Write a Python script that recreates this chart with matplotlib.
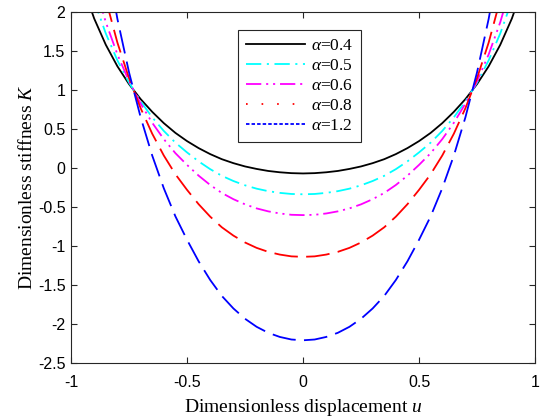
import numpy as np
import matplotlib
matplotlib.use("Agg")
import matplotlib.pyplot as plt
from matplotlib.lines import Line2D

plt.rcParams['axes.unicode_minus'] = False
plt.rcParams['mathtext.fontset'] = 'custom'
plt.rcParams['mathtext.rm'] = 'Liberation Serif'
plt.rcParams['mathtext.it'] = 'Liberation Serif:italic'

# displacement grid (read points)
u_pos = [0.00, 0.05, 0.10, 0.15, 0.20, 0.25, 0.30, 0.35, 0.40, 0.45,
         0.50, 0.55, 0.60, 0.65, 0.70, 0.75, 0.80, 0.85, 0.90, 0.95]

# stiffness values for u >= 0 (curves are symmetric about u = 0)
K_04 = [-0.070, -0.066, -0.055, -0.038, -0.012, 0.020, 0.062, 0.113, 0.178, 0.255,
        0.345, 0.450, 0.575, 0.720, 0.884, 1.076, 1.304, 1.580, 1.916, 2.340]
K_05 = [-0.337, -0.333, -0.319, -0.297, -0.265, -0.222, -0.167, -0.100, -0.015, 0.085,
        0.200, 0.325, 0.475, 0.650, 0.855, 1.095, 1.380, 1.725, 2.145, 2.675]
K_06 = [-0.604, -0.600, -0.583, -0.556, -0.518, -0.466, -0.400, -0.320, -0.218, -0.098,
        0.040, 0.190, 0.370, 0.580, 0.826, 1.114, 1.456, 1.870, 2.374, 3.010]
K_08 = [-1.139, -1.133, -1.110, -1.075, -1.024, -0.955, -0.867, -0.760, -0.624, -0.464,
        -0.280, -0.080, 0.160, 0.440, 0.768, 1.152, 1.608, 2.160, 2.832, 3.680]
K_12 = [-2.209, -2.199, -2.166, -2.113, -2.036, -1.933, -1.801, -1.640, -1.436, -1.196,
        -0.920, -0.620, -0.260, 0.160, 0.652, 1.228, 1.912, 2.740, 3.748, 5.020]

labels = [r'$\alpha$=0.4', r'$\alpha$=0.5', r'$\alpha$=0.6', r'$\alpha$=0.8', r'$\alpha$=1.2']
colors = ['black', 'cyan', 'magenta', 'red', 'blue']
xticks = [-1, -0.5, 0, 0.5, 1]
xticklabels = ['-1', '-0.5', '0', '0.5', '1']
yticks = [-2.5, -2, -1.5, -1, -0.5, 0, 0.5, 1, 1.5, 2]
yticklabels = ['-2.5', '-2', '-1.5', '-1', '-0.5', '0', '0.5', '1', '1.5', '2']


def full(u, k):
    u = np.asarray(u)
    k = np.asarray(k)
    return np.concatenate([-u[:0:-1], u]), np.concatenate([k[:0:-1], k])


fig = plt.figure(figsize=(5.46, 4.18), dpi=100)
ax = fig.add_axes([0.130, 0.1316, 0.850, 0.8397])

lw = 1.3
plot_styles = [
    '-',
    (0, (11 / lw, 4 / lw, 1.5 / lw, 4 / lw)),
    (0, (11 / lw, 3.5 / lw, 1.5 / lw, 3.5 / lw, 1.5 / lw, 3.5 / lw)),
    (0, (17 / lw, 6 / lw)),
    (0, (17 / lw, 6 / lw)),
]
legend_styles = [
    '-',
    (0, (11 / lw, 4 / lw, 1.5 / lw, 4 / lw)),
    (0, (11 / lw, 3.5 / lw, 1.5 / lw, 3.5 / lw, 1.5 / lw, 3.5 / lw)),
    (0, (1.2 / lw, 10 / lw)),
    (0, (2.5 / lw, 1.5 / lw)),
]

series = [K_04, K_05, K_06, K_08, K_12]
for k, c, ls in zip(series, colors, plot_styles):
    x, y = full(u_pos, k)
    ax.plot(x, y, color=c, lw=lw, linestyle=ls)

ax.set_xlim(-1, 1)
ax.set_ylim(-2.5, 2)
ax.set_xticks(xticks)
ax.set_xticklabels(xticklabels)
ax.set_yticks(yticks)
ax.set_yticklabels(yticklabels)

edge = '#262626'
for s in ax.spines.values():
    s.set_color(edge)
    s.set_linewidth(0.8)
ax.tick_params(direction='in', top=True, right=True, length=4, width=0.8,
               color=edge, labelsize=11.5)
ax.tick_params(axis='x', pad=9)
ax.tick_params(axis='y', pad=4)
for t in ax.get_xticklabels() + ax.get_yticklabels():
    t.set_fontfamily('Liberation Sans')
    t.set_color('black')

ax.set_xlabel('Dimensionless displacement $u$', family='Liberation Serif', fontsize=14, labelpad=5)
ax.set_ylabel('Dimensionless stiffness $K$', family='Liberation Serif', fontsize=14, labelpad=1)

handles = [Line2D([], [], color=c, lw=lw, linestyle=ls) for c, ls in zip(colors, legend_styles)]
leg = ax.legend(handles, labels, loc='upper center', bbox_to_anchor=(0.4925, 0.949),
                borderaxespad=0, fancybox=False, framealpha=1, edgecolor=edge,
                prop={'family': 'Liberation Serif', 'size': 12.5},
                handlelength=3.4, handletextpad=0.35, labelspacing=0.22, borderpad=0.45)
leg.get_frame().set_linewidth(0.8)

fig.savefig('out.png', dpi=100)
